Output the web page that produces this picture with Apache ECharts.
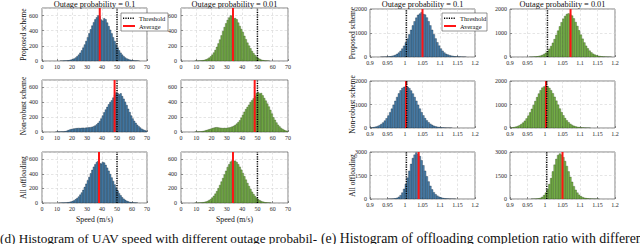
<!DOCTYPE html>
<html><head><meta charset="utf-8">
<script src="https://cdn.jsdelivr.net/npm/echarts@6/dist/echarts.min.js"></script>
<style>html,body{margin:0;padding:0;background:#fff;overflow:hidden}#c{width:640px;height:244px}</style>
</head><body><div id="c"></div>
<script>
// ---------- data ----------
const speedBinStart = 8, speedBinWidth = 1;      // m/s
const ratioBinStart = 0.9, ratioBinWidth = 0.005;
const speedTicks = [0, 70, 10];
const ratioTicks = [0.9, 1.2, 0.05];
const speedCountAxis = [0, 700, 200];
const ratioCountAxis = [[0, 2000, 1000], [0, 2000, 1000], [0, 3000, 1500]];
const rowNames = ['Proposed scheme', 'Non-robust scheme', 'All offloading'];
const colTitles = ['Outage probability = 0.1', 'Outage probability = 0.01'];
const legendNames = ['Threshold', 'Average'];
const speedLabel = 'Speed (m/s)';
const captionD = '(d) Histogram of UAV speed with different outage probabil-';
const captionE = '(e) Histogram of offloading completion ratio with different outage probabilities.';

const speedProposed01 = [0,0,0,0,1,1,2,3,4,7,10,15,22,31,44,60,81,107,138,175,216,262,312,364,416,465,510,547,576,600,588,545,530,562,548,505,458,410,362,312,262,216,175,138,107,81,60,44,31,22,15,10,7,4,3,2,1,0,0,0,0,0];
const speedProposed001 = [0,1,1,2,3,5,8,13,20,29,42,59,81,109,143,184,230,281,336,392,446,496,540,572,600,592,560,565,548,505,460,420,380,330,285,240,200,165,130,100,75,55,38,25,15,9,5,3,2,1,0,0,0,0,0,0,0,0,0,0,0,0];
const speedNonRobust01 = [0,1,2,3,3,4,5,8,14,22,30,36,42,45,48,50,52,50,53,55,52,56,58,60,62,68,75,85,100,120,145,180,220,262,300,335,370,400,425,460,500,530,520,505,518,480,445,405,360,310,265,220,180,148,120,95,75,58,42,30,22,14];
const speedNonRobust001 = [0,1,2,3,4,6,10,15,22,28,35,42,50,55,60,62,58,55,52,50,53,50,55,58,62,70,80,92,110,130,155,190,230,270,305,335,365,400,425,450,480,520,535,515,522,490,455,420,380,340,295,245,195,160,125,95,72,52,38,26,17,10];
const speedAll01 = [0,0,0,1,1,2,2,3,5,8,12,18,26,36,50,66,86,112,142,178,218,262,308,355,405,452,495,530,560,575,545,538,560,552,520,482,440,395,348,300,252,208,168,132,102,76,56,40,28,19,12,8,5,3,2,1,0,0,0,0,0,0];
const speedAll001 = [0,1,1,2,3,5,8,12,18,26,38,52,72,96,126,160,200,245,292,340,390,440,490,530,565,580,575,578,560,530,495,455,410,365,318,272,230,190,152,120,92,68,50,35,24,16,10,6,4,2,1,0,0,0,0,0,0,0,0,0,0,0];

const ratioProposed01 = [0,0,0,0,0,0,1,2,4,7,12,20,33,53,81,122,176,250,344,461,601,760,937,1122,1308,1481,1633,1750,1800,1860,1790,1760,1640,1480,1310,1125,940,765,605,465,348,252,178,124,95,68,48,33,22,15,10,6,4,2,1,0,0,0,0,0];
const ratioProposed001 = [0,0,0,0,0,0,0,0,0,0,0,2,3,7,12,19,32,51,79,119,171,243,335,449,585,740,912,1092,1272,1441,1589,1703,1780,1810,1760,1720,1600,1450,1285,1105,925,755,598,462,350,258,185,130,90,62,42,28,18,11,7,4,2,1,0,0];
const ratioNonRobust01 = [14,22,34,52,78,115,163,227,307,406,525,663,815,979,1148,1312,1465,1595,1695,1740,1790,1745,1690,1590,1462,1310,1150,982,818,665,530,412,314,235,172,124,88,62,44,30,20,13,8,5,3,2,1,0,0,0,0,0,0,0,0,0,0,0,0,0];
const ratioNonRobust001 = [12,20,32,50,76,112,160,222,302,400,520,655,808,970,1140,1305,1460,1600,1710,1760,1810,1770,1700,1600,1470,1320,1155,985,820,668,532,413,315,235,171,122,86,60,41,28,18,12,7,4,2,1,0,0,0,0,0,0,0,0,0,0,0,0,0,0];
const ratioAll01 = [0,0,0,0,0,0,0,0,0,0,1,3,6,15,33,67,130,235,399,638,958,1351,1790,2227,2603,2820,2960,2850,2723,2465,2142,1790,1436,1107,830,600,420,290,200,135,90,58,36,22,13,7,4,2,1,0,0,0,0,0,0,0,0,0,0,0];
const ratioAll001 = [0,0,0,0,0,0,0,0,0,0,0,0,1,3,6,15,32,66,128,232,392,625,940,1320,1750,2180,2545,2800,2890,2820,2660,2410,2095,1750,1405,1085,805,575,395,262,170,108,68,42,25,15,9,5,3,2,1,0,0,0,0,0,0,0,0,0];

const speedAverages = [[38.5, 34], [48.4, 48.2], [38, 34]];
const speedThresholds = [[50, 50], [50, 50], [50, 50]];
const ratioAverages = [[1.05, 1.073], [1.003, 1.003], [1.039, 1.05]];
const ratioThresholds = [[1.004, 1.007], [1.005, 1.005], [1.004, 1.005]];

const speedHists = [[speedProposed01, speedProposed001], [speedNonRobust01, speedNonRobust001], [speedAll01, speedAll001]];
const ratioHists = [[ratioProposed01, ratioProposed001], [ratioNonRobust01, ratioNonRobust001], [ratioAll01, ratioAll001]];

// ---------- layout / style ----------
const LAYOUT = {
  speed: { cols: [[42, 105], [181, 107]], rows: [[8, 53], [80, 52], [152, 51]], nameX: 23 },
  ratio: { cols: [[370, 105], [510, 105]], rows: [[9, 48], [81, 47], [152, 47]], nameX: 352 }
};
const FACE = ['#4a84b2', '#7bb84a'];
const EDGE = ['#17283a', '#2c4618'];
const FONT = 'Liberation Serif, Times New Roman, serif';
const TXT = '#262626';

const grids = [], xAxes = [], yAxes = [], series = [], graphics = [];

function addPanel(kind, r, c) {
  const L = LAYOUT[kind];
  const [left, width] = L.cols[c];
  const [top, height] = L.rows[r];
  const k = grids.length;
  grids.push({ left, top, width, height, show: true, borderColor: '#4d4d4d', borderWidth: 0.7, backgroundColor: 'transparent', containLabel: false });
  const isSpeed = kind === 'speed';
  const xt = isSpeed ? speedTicks : ratioTicks;
  const yt = isSpeed ? speedCountAxis : ratioCountAxis[r];
  const dash = { show: true, lineStyle: { color: '#d4d4d4', width: 0.6, type: [2.5, 2] } };
  const labelBase = { fontSize: 6, color: TXT, fontFamily: FONT };
  xAxes.push({
    type: 'value', gridIndex: k, min: xt[0], max: xt[1], interval: xt[2],
    axisLine: { show: false }, axisTick: { show: true, inside: true, length: 2, lineStyle: { color: '#4d4d4d', width: 0.6 } },
    axisLabel: Object.assign({}, labelBase, { margin: 3, formatter: v => String(+v.toFixed(2)) }),
    splitLine: dash
  });
  yAxes.push({
    type: 'value', gridIndex: k, min: yt[0], max: yt[1], interval: yt[2],
    axisLine: { show: false }, axisTick: { show: true, inside: true, length: 2, lineStyle: { color: '#4d4d4d', width: 0.6 } },
    axisLabel: Object.assign({}, labelBase, { margin: isSpeed ? 4 : 3, showMaxLabel: isSpeed ? false : true, formatter: v => String(v) }),
    splitLine: dash
  });

  if (c === 0) {
    graphics.push({ type: 'text', x: L.nameX, y: top + height / 2, rotation: Math.PI / 2,
      style: { text: rowNames[r], fill: '#111', font: '7.5px ' + FONT, align: 'center', verticalAlign: 'middle' } });
  }
  if (isSpeed && r === 2) {
    graphics.push({ type: 'text', x: left + width / 2, y: 219,
      style: { text: speedLabel, fill: '#111', font: '7.7px ' + FONT, align: 'center', verticalAlign: 'middle' } });
  }

  const values = (isSpeed ? speedHists : ratioHists)[r][c];
  const start = isSpeed ? speedBinStart : ratioBinStart;
  const w = isSpeed ? speedBinWidth : ratioBinWidth;
  const data = values.map((v, i) => [start + i * w, start + (i + 1) * w, v]);
  const face = FACE[c], edge = EDGE[c];
  series.push({
    type: 'custom', xAxisIndex: k, yAxisIndex: k, data, silent: true, clip: true,
    encode: { x: [0, 1], y: 2 },
    renderItem: (params, api) => {
      const v = api.value(2);
      if (!v) return null;
      const a = api.coord([api.value(0), v]);
      const b = api.coord([api.value(1), 0]);
      return { type: 'rect', shape: { x: a[0], y: a[1], width: b[0] - a[0], height: b[1] - a[1] },
        style: { fill: face, stroke: edge, lineWidth: 0.35 } };
    }
  });
  const avg = (isSpeed ? speedAverages : ratioAverages)[r][c];
  const thr = (isSpeed ? speedThresholds : ratioThresholds)[r][c];
  series.push({ type: 'line', name: legendNames[1], xAxisIndex: k, yAxisIndex: k, data: [[avg, yt[0]], [avg, yt[1]]],
    symbol: 'none', silent: true, lineStyle: { color: '#ff1414', width: 2 }, z: 3 });
  series.push({ type: 'line', name: legendNames[0], xAxisIndex: k, yAxisIndex: k, data: [[thr, yt[0]], [thr, yt[1]]],
    symbol: 'none', silent: true, lineStyle: { color: '#000', width: 1.5, type: [1.2, 1.2] }, z: 4 });

  if (r === 0) {
    graphics.push({ type: 'text', x: left + width / 2, y: 4.5,
      style: { text: colTitles[c], fill: '#111', font: '8.3px ' + FONT, align: 'center', verticalAlign: 'middle' } });
  }
  if (r === 0 && c === 0) {
    const bx = isSpeed ? 121 : 442, bw = isSpeed ? 47 : 45;
    graphics.push({ type: 'rect', shape: { x: bx, y: 13, width: bw, height: 18 }, style: { fill: '#fff', stroke: '#4d4d4d', lineWidth: 0.6 }, z: 10 });
    graphics.push({ type: 'line', shape: { x1: bx + 2, y1: 18.3, x2: bx + 14, y2: 18.3 }, style: { stroke: '#000', lineWidth: 1.5, lineDash: [1.2, 1.2] }, z: 11 });
    graphics.push({ type: 'line', shape: { x1: bx + 2, y1: 26, x2: bx + 14, y2: 26 }, style: { stroke: '#ff1414', lineWidth: 2 }, z: 11 });
    graphics.push({ type: 'text', x: bx + 18, y: 18.3, style: { text: legendNames[0], fill: '#111', font: '6.5px ' + FONT, verticalAlign: 'middle' }, z: 11 });
    graphics.push({ type: 'text', x: bx + 18, y: 26, style: { text: legendNames[1], fill: '#111', font: '6.5px ' + FONT, verticalAlign: 'middle' }, z: 11 });
  }
}

for (let r = 0; r < 3; r++) for (let c = 0; c < 2; c++) { addPanel('speed', r, c); addPanel('ratio', r, c); }

graphics.push({ type: 'text', x: 0, y: 238, style: { text: captionD, fill: '#111', font: '13.2px ' + FONT, verticalAlign: 'middle' } });
graphics.push({ type: 'text', x: 321, y: 238, style: { text: captionE, fill: '#111', font: '13.8px ' + FONT, verticalAlign: 'middle' } });

const chart = echarts.init(document.getElementById('c'), null, { renderer: 'svg', width: 640, height: 244 });
chart.setOption({ animation: false, backgroundColor: '#fff', grid: grids, xAxis: xAxes, yAxis: yAxes, series, graphic: graphics });
</script></body></html>
